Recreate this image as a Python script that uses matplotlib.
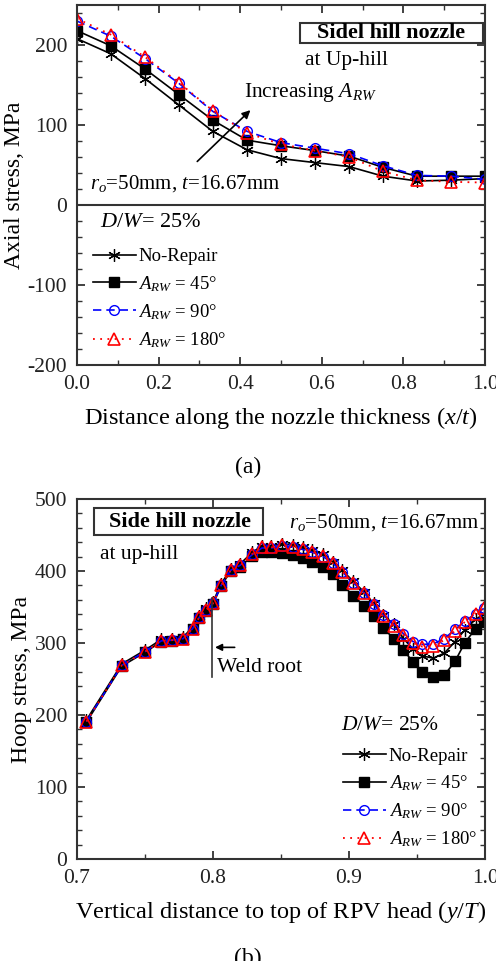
import matplotlib
matplotlib.use('Agg')
import matplotlib.pyplot as plt
from matplotlib.patches import Rectangle
from matplotlib.ticker import MultipleLocator

plt.rcParams['font.family'] = ['Liberation Serif', 'DejaVu Serif']
plt.rcParams['mathtext.fontset'] = 'custom'
plt.rcParams['mathtext.rm'] = 'Liberation Serif'
plt.rcParams['mathtext.it'] = 'Liberation Serif:italic'
plt.rcParams['axes.unicode_minus'] = False

# ---------------------------------------------------------
# Data (a): axial stress through the nozzle thickness
# ---------------------------------------------------------
x_a = [0.0, 0.083, 0.167, 0.25, 0.333, 0.417, 0.5, 0.583, 0.667, 0.75, 0.833, 0.917, 1.0]
norepair_a = [208, 189, 158, 125, 92, 69, 58, 53, 48, 36, 30, 31, 33]
arw45_a = [218, 199, 170, 138, 106, 81, 74, 68, 61, 47, 36, 36, 36]
arw90_a = [230, 211, 183, 152, 117, 92, 78, 71, 64, 49, 37, 36, 32]
arw180_a = [233, 213, 185, 153, 118, 90, 76, 68, 60, 42, 31, 29, 28]

# ---------------------------------------------------------
# Data (b): hoop stress along the vertical distance
# ---------------------------------------------------------
x_b = [0.707, 0.733, 0.750, 0.762, 0.770, 0.778, 0.785, 0.790, 0.795, 0.800,
       0.806, 0.813, 0.820, 0.829, 0.836, 0.843, 0.851, 0.859, 0.866, 0.873,
       0.881, 0.888, 0.895, 0.903, 0.911, 0.918, 0.925, 0.933, 0.940, 0.947,
       0.954, 0.962, 0.970, 0.978, 0.985, 0.993, 0.999]
norepair_b = [193, 271, 290, 305, 306, 308, 322, 338, 348, 357,
              382, 403, 410, 426, 435, 435, 438, 436, 433, 429,
              423, 413, 401, 386, 371, 355, 339, 326, 306, 292,
              282, 279, 286, 302, 318, 333, 340]
arw45_b = [190, 268, 287, 302, 303, 305, 319, 335, 345, 354,
           379, 400, 406, 421, 427, 426, 425, 422, 418, 412,
           405, 396, 381, 366, 352, 337, 321, 306, 290, 274,
           260, 253, 255, 275, 300, 320, 329]
arw90_b = [191, 269, 288, 303, 304, 306, 320, 336, 346, 355,
           380, 401, 408, 423, 432, 432, 435, 433, 430, 426,
           420, 411, 399, 384, 370, 354, 339, 326, 313, 302,
           298, 299, 306, 319, 330, 341, 348]
arw180_b = [191, 269, 288, 303, 304, 306, 320, 336, 346, 355,
            380, 401, 408, 424, 433, 433, 436, 434, 431, 427,
            421, 411, 399, 384, 369, 353, 337, 324, 311, 300,
            295, 296, 304, 317, 329, 341, 348]

labels = ['No-Repair', r'$A_{RW}$ = 45°', r'$A_{RW}$ = 90°', r'$A_{RW}$ = 180°']

fig = plt.figure(figsize=(4.96, 9.61), dpi=100)
ax1 = fig.add_axes([0.155, 0.6202, 0.823, 0.3746])
ax2 = fig.add_axes([0.155, 0.1061, 0.823, 0.3746])


def draw_series(ax, x, s0, s1, s2, s3, ms):
    h0, = ax.plot(x, s0, color='black', lw=1.2, marker=(6, 2, 0), ms=ms + 2, mew=0.9)
    h1, = ax.plot(x, s1, color='black', lw=1.2, marker='s', ms=ms, mfc='black')
    h2, = ax.plot(x, s2, color='blue', lw=1.2, ls=(0, (5, 3)), marker='o', ms=ms,
                  mfc='none', mec='blue', mew=1.0)
    h3, = ax.plot(x, s3, color='red', lw=1.3, ls=(0, (1, 3)), marker='^', ms=ms + 1,
                  mfc='none', mec='red', mew=1.2)
    return [h0, h1, h2, h3]


def style_axes(ax):
    for sp in ax.spines.values():
        sp.set_linewidth(1.5)
        sp.set_color('#333333')
    ax.tick_params(which='both', direction='in', top=True, right=True,
                   labelsize=15.5, colors='#333333', labelcolor='#222222')
    ax.tick_params(which='major', length=6, width=1.3, pad=7)
    ax.tick_params(which='minor', length=3.5, width=1.0)


def title_box(ax, x0, y0, x1, y1):
    ax.add_patch(Rectangle((x0, y0), x1 - x0, y1 - y0, transform=ax.transAxes,
                           fc='white', ec='#333333', lw=1.5, zorder=4))


# ---- panel (a) ----
h = draw_series(ax1, x_a, norepair_a, arw45_a, arw90_a, arw180_a, 7)
ax1.set_xlim(0, 1.0)
ax1.set_ylim(-200, 250)
ax1.set_yticks([-200, -100, 0, 100, 200])
ax1.set_xticks([0.0, 0.2, 0.4, 0.6, 0.8, 1.0])
ax1.set_xticklabels(['0.0', '0.2', '0.4', '0.6', '0.8', '1.0'])
ax1.xaxis.set_minor_locator(MultipleLocator(0.1))
ax1.yaxis.set_minor_locator(MultipleLocator(20))
ax1.axhline(0, color='#333333', lw=1.5)
style_axes(ax1)
ax1.set_xlabel(r'Distance along the nozzle thickness ($x/t$)', fontsize=17.5, labelpad=8)
ax1.set_ylabel('Axial stress, MPa', fontsize=17, labelpad=2)

title_box(ax1, 0.547, 0.894, 0.995, 0.95)
ax1.text(0.77, 215, 'Sidel hill nozzle', fontsize=16, fontweight='bold', ha='center', va='center',
         zorder=5)
ax1.text(0.559, 180, 'at Up-hill', fontsize=15.5, ha='left', va='center')
ax1.text(0.41, 140, r'Increasing $A_{RW}$', fontsize=15.5, ha='left', va='center')
ax1.annotate('', xy=(0.43, 121), xytext=(0.29, 52),
             arrowprops=dict(arrowstyle='-|>', color='black', lw=1.2, mutation_scale=12))
ax1.text(0.032, 27, r'$r_o$=50mm, $t$=16.67mm', fontsize=15, ha='left', va='center')
ax1.text(0.056, -22, r'$D/W$= 25%', fontsize=16, ha='left', va='center')
ax1.legend(h, labels, loc='upper left', bbox_to_anchor=(0.02, 0.345), frameon=False,
           fontsize=13.5, numpoints=1, handlelength=2.3, handletextpad=0.15,
           labelspacing=0.45, borderaxespad=0)

# ---- panel (b) ----
h = draw_series(ax2, x_b, norepair_b, arw45_b, arw90_b, arw180_b, 7)
ax2.set_xlim(0.7, 1.0)
ax2.set_ylim(0, 500)
ax2.set_yticks([0, 100, 200, 300, 400, 500])
ax2.set_xticks([0.7, 0.8, 0.9, 1.0])
ax2.set_xticklabels(['0.7', '0.8', '0.9', '1.0'])
ax2.xaxis.set_minor_locator(MultipleLocator(0.05))
ax2.yaxis.set_minor_locator(MultipleLocator(20))
style_axes(ax2)
ax2.set_xlabel(r'Vertical distance to top of RPV head ($y/T$)', fontsize=17.5, labelpad=8)
ax2.set_ylabel('Hoop stress, MPa', fontsize=17, labelpad=2)

title_box(ax2, 0.042, 0.9, 0.456, 0.975)
ax2.text(0.7755, 468, 'Side hill nozzle', fontsize=16, fontweight='bold', ha='center', va='center',
         zorder=5)
ax2.text(0.717, 423, 'at up-hill', fontsize=15.5, ha='left', va='center')
ax2.text(0.856, 468, r'$r_o$=50mm, $t$=16.67mm', fontsize=15, ha='left', va='center')
ax2.plot([0.799, 0.799], [253, 362], color='#333333', lw=1.2)
ax2.annotate('', xy=(0.7995, 294), xytext=(0.818, 294),
             arrowprops=dict(arrowstyle='-|>', color='black', lw=1.2, mutation_scale=10))
ax2.text(0.803, 266, 'Weld root', fontsize=15.5, ha='left', va='center')
ax2.text(0.894, 186, r'$D/W$= 25%', fontsize=15.5, ha='left', va='center')
ax2.legend(h, labels, loc='upper left', bbox_to_anchor=(0.633, 0.33), frameon=False,
           fontsize=13.5, numpoints=1, handlelength=2.3, handletextpad=0.15,
           labelspacing=0.45, borderaxespad=0)

fig.text(0.5, 1 - 467 / 961, '(a)', fontsize=17, ha='center', va='center')
fig.text(0.5, 1 - 958 / 961, '(b)', fontsize=17, ha='center', va='center')

fig.savefig('out.png', dpi=100)
